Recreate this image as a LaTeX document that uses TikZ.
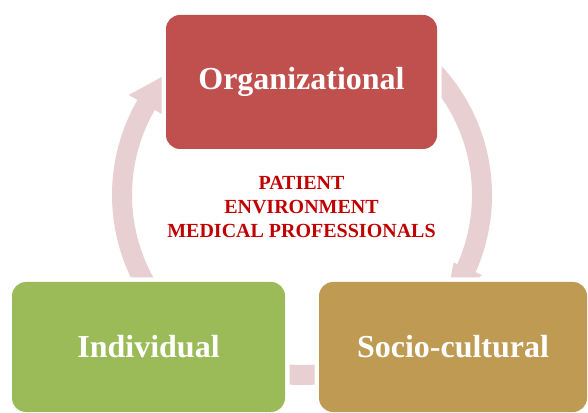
\documentclass[tikz,border=0pt]{standalone}
\usepackage{fontspec}
\setmainfont{Liberation Serif}
\definecolor{orgred}{HTML}{C0504D}
\definecolor{indgreen}{HTML}{9BBB59}
\definecolor{soctan}{HTML}{BE9A52}
\definecolor{arrowpink}{HTML}{E8CFD1}
\definecolor{textred}{HTML}{C00000}
\tikzset{
  cyclebox/.style={rounded corners=14pt, draw=none, inner sep=0pt,
    preaction={draw=white, line width=9pt},
    text=white, font=\bfseries\fontsize{32}{38}\selectfont},
  cyclearrow/.style={fill=arrowpink, draw=none}
}
\begin{document}
\begin{tikzpicture}[x=1pt,y=1pt]
\useasboundingbox (0,0) rectangle (588,412);
\clip (0,0) rectangle (588,412);
\coordinate (C) at (302,217);
% left arc: Individual -> Organizational
\fill[cyclearrow] ([shift={(C)}]215:190) arc[start angle=215,end angle=150,radius=190]
  -- ([shift={(C)}]150:200) -- ([shift={(C)}]137:180) -- ([shift={(C)}]150:162)
  -- ([shift={(C)}]150:170) arc[start angle=150,end angle=215,radius=170] -- cycle;
% right arc: Organizational -> Socio-cultural
\fill[cyclearrow] ([shift={(C)}]50:190) arc[start angle=50,end angle=-24,radius=190]
  -- ([shift={(C)}]-24:197) -- ([shift={(C)}]-37:180) -- ([shift={(C)}]-24:166)
  -- ([shift={(C)}]-24:170) arc[start angle=-24,end angle=50,radius=170] -- cycle;
% bottom arc: Socio-cultural -> Individual
\fill[cyclearrow] ([shift={(C)}]288:190) arc[start angle=288,end angle=262,radius=190]
  -- ([shift={(C)}]262:200) -- ([shift={(C)}]252:180) -- ([shift={(C)}]262:160)
  -- ([shift={(C)}]262:170) arc[start angle=262,end angle=288,radius=170] -- cycle;
% boxes
\node[cyclebox, fill=orgred, minimum width=271pt, minimum height=134pt] (org) at (301.5,330) {Organizational};
\node[cyclebox, fill=indgreen, minimum width=273pt, minimum height=130pt] (ind) at (148.5,65) {Individual};
\node[cyclebox, fill=soctan, minimum width=268pt, minimum height=130pt] (soc) at (453,65) {Socio-cultural};
% centre text
\node[align=center, text=textred, font=\bfseries\fontsize{20}{24}\selectfont] (centre) at (301.5,205.5)
  {PATIENT\\ENVIRONMENT\\MEDICAL PROFESSIONALS};
\end{tikzpicture}
\end{document}
